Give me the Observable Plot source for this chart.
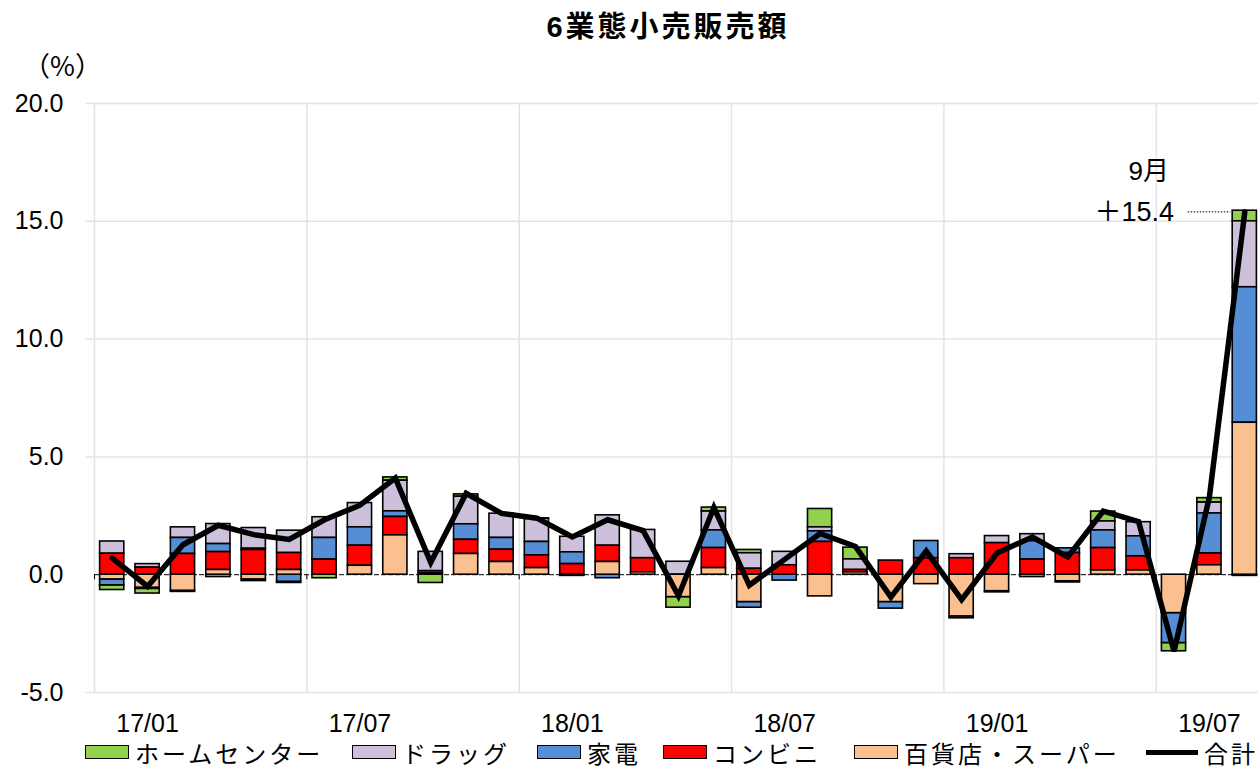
<!DOCTYPE html>
<html><head><meta charset="utf-8">
<script src="https://cdn.jsdelivr.net/npm/d3@7"></script>
<script src="https://cdn.jsdelivr.net/npm/@observablehq/plot@0.6"></script>
<style>
body{margin:0;background:#fff;font-family:"Liberation Sans","Noto Sans CJK JP",sans-serif;color:#000;}
#wrap{position:relative;width:1258px;height:768px;overflow:hidden;background:#fff}
#title{position:absolute;left:86px;width:1164px;top:7px;text-align:center;font-weight:bold;font-size:29px;letter-spacing:3px;line-height:40px}
#chart{position:absolute;left:0;top:50px}
.lg{position:absolute;top:738px;height:28px;display:flex;align-items:center;font-size:24px;letter-spacing:3px;white-space:nowrap;font-family:"Noto Sans CJK JP",sans-serif}
.sw{display:inline-block;width:44px;height:14px;border:1.5px solid #000;margin-right:6px;box-sizing:border-box}
.ln{display:inline-block;width:52px;height:5px;background:#000;margin-right:6px}
</style></head><body>
<div id="wrap">
<div id="title">6業態小売販売額</div>
<div id="chart"></div>
<div id="legend"></div>
</div>
<script>
const months = ["17/01","17/02","17/03","17/04","17/05","17/06","17/07","17/08","17/09","17/10","17/11","17/12",
"18/01","18/02","18/03","18/04","18/05","18/06","18/07","18/08","18/09","18/10","18/11","18/12",
"19/01","19/02","19/03","19/04","19/05","19/06","19/07","19/08","19/09"];
const seriesNames = ["ホームセンター","ドラッグ","家電","コンビニ","百貨店・スーパー"];
const seriesColors = ["#92D050","#CCC0DA","#558ED5","#FF0000","#FAC090"];
const stackOrder = ["百貨店・スーパー","コンビニ","家電","ドラッグ","ホームセンター"];
const homeCenter = [-0.2,-0.2,-0.05,-0.1,-0.07,-0.05,-0.15,0,0.14,-0.35,0.1,0,0.02,0,0,0,-0.45,0.17,0.14,0,0.78,0.5,0,0,-0.08,-0.05,-0.1,-0.05,0.42,0,-0.35,0.19,0.45];
const drug = [0.52,0.15,0.45,0.85,0.88,0.95,0.88,1.03,1.3,0.82,1.17,1.03,0.98,0.66,1.29,1.2,0.55,0.8,0.66,0.57,0.17,0.45,0,0,0.17,0.3,0.3,0,0.38,0.6,0,0.46,2.8];
const electronics = [-0.25,-0.05,0.68,0.34,0.05,-0.3,0.92,0.78,0.24,0,0.66,0.5,0.57,0.5,-0.15,0,0,0.75,-0.24,-0.25,0.45,0,-0.28,0.73,0,0,0.78,0.2,0.75,0.85,-1.27,1.7,5.75];
const cvs = [0.89,0.3,0.88,0.76,1.05,0.72,0.64,0.85,0.78,0.1,0.6,0.52,0.54,0.45,0.69,0.6,0,0.85,0.25,0.4,1.39,0.1,0.6,0.7,0.7,1.34,0.64,0.92,0.95,0.6,0,0.5,-0.05];
const deptSuper = [-0.2,-0.55,-0.68,0.2,-0.2,0.2,0,0.38,1.67,0.05,0.88,0.54,0.28,-0.05,0.54,0.1,-0.95,0.28,-1.16,0,-0.92,0.1,-1.16,-0.4,-1.77,-0.7,0,-0.28,0.18,0.18,-1.63,0.4,6.45];
const total = [0.7,-0.5,1.27,2.1,1.7,1.5,2.33,2.95,4.1,0.52,3.45,2.6,2.4,1.6,2.33,1.87,-0.9,2.85,-0.45,0.65,1.75,1.2,-0.95,1.0,-1.06,0.92,1.6,0.75,2.7,2.25,-3.25,3.3,15.4];
const xTickLabels = ["17/01","17/07","18/01","18/07","19/01","19/07"];
const yTicks = [-5,0,5,10,15,20];
const unitLabel = "（%）";
const annotMonth = "9月";
const annotValue = "＋15.4";

const seriesValues = [homeCenter, drug, electronics, cvs, deptSuper];
const rows = [];
months.forEach((m,i)=>seriesNames.forEach((s,k)=>rows.push({i, month:m, series:s, value:seriesValues[k][i]})));
const totals = months.map((m,i)=>({i, month:m, total:total[i]}));
const n = months.length;
const last = n-1;
const gridX = d3.range(0, n, 6);
const labelRows = xTickLabels.map((t,k)=>({x: gridX[k] + 1.5, t}));
const font = `"Liberation Sans","Noto Sans CJK JP",sans-serif`;

const chart = Plot.plot({
  width:1258, height:688,
  marginLeft:94, marginRight:-4, marginTop:53, marginBottom:46,
  style:{fontFamily:font, fontSize:"24px", color:"#000", background:"transparent", overflow:"visible"},
  x:{domain:[0,n], axis:null},
  y:{domain:[-5,20], axis:null},
  color:{domain:seriesNames, range:seriesColors},
  marks:[
    Plot.ruleY(yTicks.filter(d=>d!==0), {stroke:"#e4e4e4", strokeWidth:1.5, x1:-0.25, x2:n}),
    Plot.ruleX(gridX, {y1:-5, y2:20, stroke:"#e4e4e4", strokeWidth:1.5}),
    Plot.axisY({ticks:yTicks, tickSize:0, tickPadding:31, tickFormat:d=>d.toFixed(1), fontSize:25, label:null}),
    Plot.ruleY([0], {stroke:"#000", strokeWidth:1, strokeDasharray:"5,2"}),
    Plot.ruleX(gridX, {y1:0, y2:-0.22, stroke:"#000", strokeWidth:1}),
    Plot.rect(rows, Plot.stackY({x1:"i", x2:d=>d.i+1, y:"value", fill:"series", order:stackOrder, insetLeft:5.6, insetRight:5.6, stroke:"#000", strokeWidth:1.6})),
    Plot.line(totals, {x:d=>d.i+0.5, y:"total", stroke:"#000", strokeWidth:5.5, strokeLinejoin:"miter", strokeMiterlimit:4}),
    Plot.text(labelRows, {x:"x", y:()=>-5, text:"t", dy:31, fontSize:25, textAnchor:"middle", lineAnchor:"middle"}),
    Plot.text([unitLabel], {frameAnchor:"top-left", dx:-32, dy:-36, fontSize:27, fontFamily:`"Noto Sans CJK JP",sans-serif`, textAnchor:"middle", lineAnchor:"middle"}),
    Plot.ruleY([total[last]], {x1:last-1.1, x2:last+0.1, stroke:"#000", strokeWidth:1, strokeDasharray:"1.5,1.5"}),
    Plot.text([total[last]], {x:last-1.5, y:d=>d, text:()=>annotValue, textAnchor:"end", lineAnchor:"middle", fontSize:27}),
    Plot.text([total[last]], {x:last-1.5, y:d=>d, text:()=>annotMonth, textAnchor:"end", lineAnchor:"middle", fontSize:26, dx:-5, dy:-40})
  ]
});
document.getElementById("chart").appendChild(chart);

const legendItems = [
  {name:"ホームセンター", color:seriesColors[0], left:85},
  {name:"ドラッグ", color:seriesColors[1], left:352},
  {name:"家電", color:seriesColors[2], left:537},
  {name:"コンビニ", color:seriesColors[3], left:663},
  {name:"百貨店・スーパー", color:seriesColors[4], left:854},
  {name:"合計", color:null, left:1146}
];
const lg = document.getElementById("legend");
legendItems.forEach(it=>{
  const d = document.createElement("div");
  d.className = "lg";
  d.style.left = it.left + "px";
  const s = document.createElement("span");
  if (it.color) { s.className = "sw"; s.style.background = it.color; } else { s.className = "ln"; }
  d.appendChild(s);
  d.appendChild(document.createTextNode(it.name));
  lg.appendChild(d);
});
</script>
</body></html>
